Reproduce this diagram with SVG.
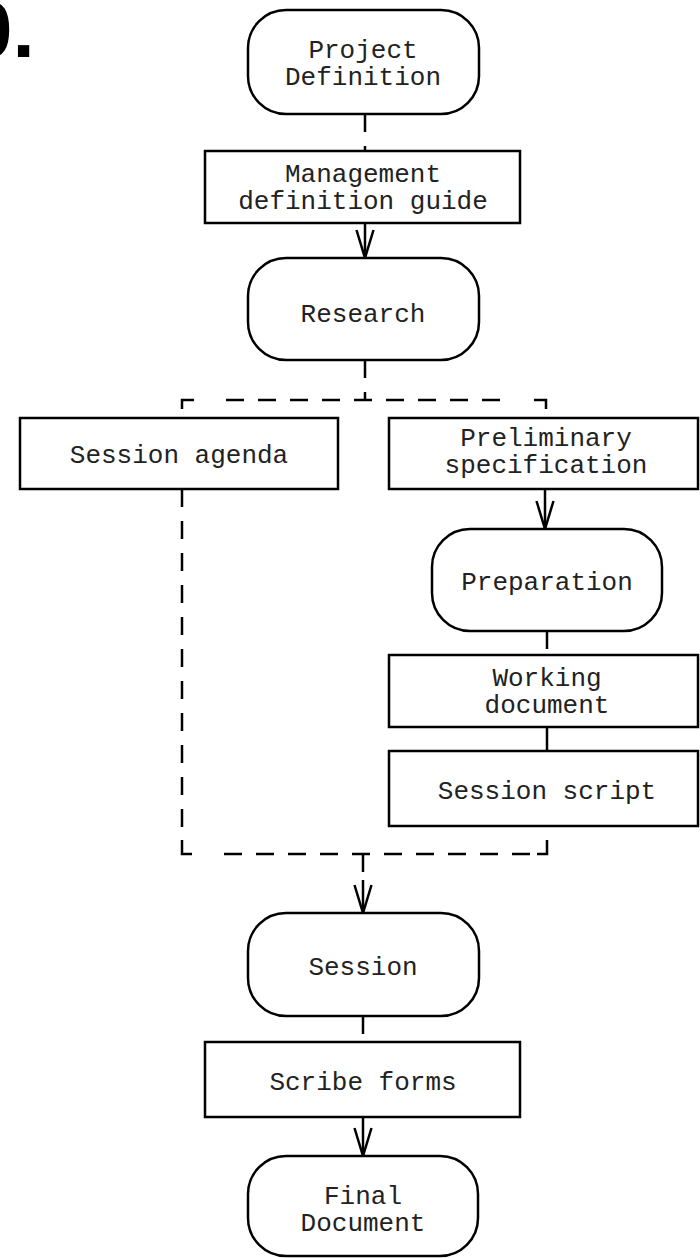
<svg xmlns="http://www.w3.org/2000/svg" width="700" height="1258" viewBox="0 0 700 1258">
<defs>
<style>
.n{fill:#fff;stroke:#000;stroke-width:2.5}
.t{font-family:"Liberation Mono","Courier New",monospace;font-size:26px;fill:#222;text-anchor:middle}
.c{fill:none;stroke:#000;stroke-width:2.5}
.d{fill:none;stroke:#000;stroke-width:2.5;stroke-dasharray:18,14}
</style>
<marker id="a" markerWidth="32" markerHeight="20" refX="30" refY="10" orient="auto" markerUnits="userSpaceOnUse" viewBox="0 0 32 20">
<path d="M2,1.5 L30,10 L2,18.5" fill="none" stroke="#000" stroke-width="2.5"/>
</marker>
</defs>
<rect width="700" height="1258" fill="#fff"/>
<text x="-32" y="57" font-family="Liberation Sans,Arial,sans-serif" font-weight="bold" font-size="80" fill="#000">0.</text>
<g id="connectors">
<path class="d" d="M365,114 V151"/>
<path class="c" d="M365,223 V258" marker-end="url(#a)"/>
<path class="d" d="M365,360 V400"/>
<path class="c" d="M182,409 V400 H194"/>
<path class="d" d="M226,400 H512"/>
<path class="c" d="M534,400 H546 V409"/>
<path class="c" d="M545,489 V529" marker-end="url(#a)"/>
<path class="d" d="M547,631 V655"/>
<path class="c" d="M547,727 V751"/>
<path class="d" d="M182,489 V836"/>
<path class="c" d="M182,840 V854 H192"/>
<path class="d" d="M224,854 H530"/>
<path class="c" d="M537,854 H547 V840"/>
<path class="d" d="M363,854 V880"/>
<path class="c" d="M363,880 V913" marker-end="url(#a)"/>
<path class="d" d="M363,1016 V1042"/>
<path class="c" d="M363,1117 V1156" marker-end="url(#a)"/>
</g>
<g id="project-definition"><rect class="n" x="248" y="10" width="231" height="104" rx="38" ry="38"/><text class="t" x="363" y="58">Project</text><text class="t" x="363" y="85">Definition</text></g>
<g id="management-guide"><rect class="n" x="205" y="151" width="315" height="72"/><text class="t" x="363" y="182">Management</text><text class="t" x="363" y="209">definition guide</text></g>
<g id="research"><rect class="n" x="248" y="258" width="231" height="102" rx="38" ry="38"/><text class="t" x="363" y="322">Research</text></g>
<g id="session-agenda"><rect class="n" x="20" y="418" width="318" height="71"/><text class="t" x="179" y="463">Session agenda</text></g>
<g id="preliminary-specification"><rect class="n" x="389" y="418" width="309" height="71"/><text class="t" x="546" y="446">Preliminary</text><text class="t" x="546" y="473">specification</text></g>
<g id="preparation"><rect class="n" x="432" y="529" width="230" height="102" rx="38" ry="38"/><text class="t" x="547" y="590">Preparation</text></g>
<g id="working-document"><rect class="n" x="389" y="655" width="309" height="72"/><text class="t" x="547" y="686">Working</text><text class="t" x="547" y="713">document</text></g>
<g id="session-script"><rect class="n" x="389" y="751" width="309" height="75"/><text class="t" x="547" y="799">Session script</text></g>
<g id="session"><rect class="n" x="248" y="913" width="231" height="103" rx="38" ry="38"/><text class="t" x="363" y="975">Session</text></g>
<g id="scribe-forms"><rect class="n" x="205" y="1042" width="315" height="75"/><text class="t" x="363" y="1090">Scribe forms</text></g>
<g id="final-document"><rect class="n" x="248" y="1156" width="230" height="100" rx="38" ry="38"/><text class="t" x="363" y="1204">Final</text><text class="t" x="363" y="1231">Document</text></g>
</svg>
